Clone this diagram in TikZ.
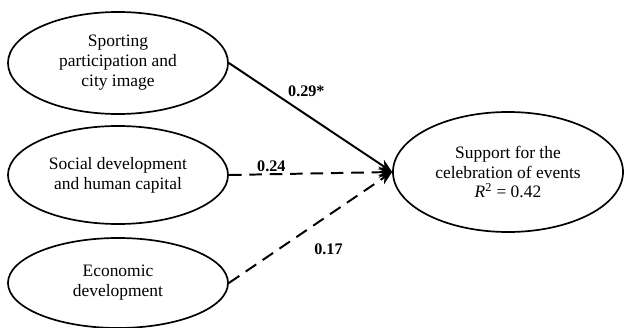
\documentclass[tikz,border=0pt]{standalone}
\usepackage{fontspec}
\setmainfont{Liberation Serif}
\usepackage{tikz}
\usetikzlibrary{arrows.meta}
\usetikzlibrary{positioning, shapes.geometric}

\begin{document}
\begin{tikzpicture}[x=0.025cm, y=-0.025cm,
    construct/.style={ellipse, draw, line width=1.2pt, inner sep=0pt, align=center,
        font=\fontsize{12.4}{14.2}\selectfont},
    path/.style={line width=1.4pt, -{Stealth[length=3.4mm, width=2.8mm]}},
    weak/.style={path, dash pattern=on 9pt off 5.5pt},
    coef/.style={font=\fontsize{11.5}{13}\selectfont\bfseries, inner sep=2pt}]
    \useasboundingbox (0,0) rectangle (625,328);
    \node[construct, minimum width=5.5cm, minimum height=2.55cm] (sport) at (118,63)
        {Sporting\\participation and\\city image};
    \node[construct, minimum width=5.5cm, minimum height=2.45cm] (social) at (118,175)
        {Social development\\and human capital};
    \node[construct, minimum width=5.5cm, minimum height=2.25cm] (econ) at (118,283)
        {Economic\\development};
    \node[construct, minimum width=5.75cm, minimum height=3cm] (support) at (508,172)
        {Support for the\\celebration of events\\\textit{R}\textsuperscript{2} = 0.42};
    \draw[path] (sport.east) -- (support.west)  % significant path
        node[coef, pos=0.34, above right] (b1) {0.29*};
    \draw[weak] (social.east) -- (support.west)
        node[coef, pos=0.26, above, inner sep=1pt] (b2) {0.24};
    \draw[weak] (econ.east) -- (support.west)
        node[coef, pos=0.5, below right=9pt and 0pt] (b3) {0.17};
\end{tikzpicture}
\end{document}
